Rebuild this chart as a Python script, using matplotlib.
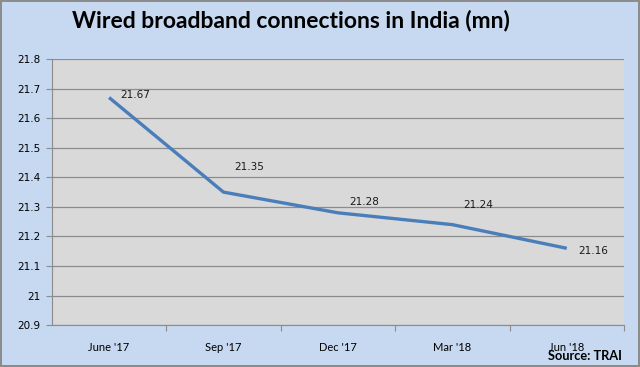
import matplotlib.pyplot as plt

quarters = ["June '17", "Sep '17", "Dec '17", "Mar '18", "Jun '18"]
connections = [21.67, 21.35, 21.28, 21.24, 21.16]
# label offsets in points (dx, dy)
label_offsets = [(8, 2), (8, 18), (8, 8), (8, 14), (8, -2)]

fig = plt.figure(figsize=(6.4, 3.67), dpi=100, facecolor="#C6D9F0",
                 edgecolor="#8C8C8C", linewidth=1.5)
ax = fig.add_axes([0.081, 0.114, 0.894, 0.725])
ax.set_facecolor("#D9D9D9")

x = range(len(quarters))
ax.plot(x, connections, color="#4A7EBB", linewidth=2.4, solid_capstyle="butt")

for i, v in enumerate(connections):
    dx, dy = label_offsets[i]
    ax.annotate(f"{v:.2f}", (i, v), xytext=(dx, dy), textcoords="offset points",
                ha="left", va="center", fontsize=7.5, family="DejaVu Sans",
                color="#1a1a1a")

ax.set_xlim(-0.5, len(quarters) - 0.5)
ax.set_ylim(20.9, 21.8)
ax.set_yticks([20.9, 21.0, 21.1, 21.2, 21.3, 21.4, 21.5, 21.6, 21.7, 21.8])
ax.set_yticklabels(["20.9", "21", "21.1", "21.2", "21.3", "21.4", "21.5",
                    "21.6", "21.7", "21.8"], fontsize=7.5, family="DejaVu Sans")
ax.yaxis.grid(True, color="#8C8C8C", linewidth=0.9)
ax.set_axisbelow(True)

ax.set_xticks([i + 0.5 for i in range(len(quarters))], minor=False)
ax.set_xticklabels([])
ax.set_xticks(list(x), minor=True)
ax.set_xticklabels(quarters, minor=True, fontsize=8, family="Lato")
ax.tick_params(axis="x", which="minor", length=0, pad=12)
ax.tick_params(axis="x", which="major", length=4, color="#8C8C8C", direction="out")
ax.tick_params(axis="y", length=4, color="#8C8C8C", pad=4)

for side in ["top", "right"]:
    ax.spines[side].set_visible(False)
for side in ["left", "bottom"]:
    ax.spines[side].set_color("#8C8C8C")

fig.text(0.455, 0.945, "Wired broadband connections in India (mn)", ha="center",
         va="center", fontsize=16.5, fontweight="bold", family="Lato")
fig.text(0.972, 0.030, "Source: TRAI", ha="right", va="center", fontsize=9.2,
         fontweight="bold", family="Lato")

fig.savefig("out.png", dpi=100, facecolor=fig.get_facecolor(),
            edgecolor=fig.get_edgecolor())
